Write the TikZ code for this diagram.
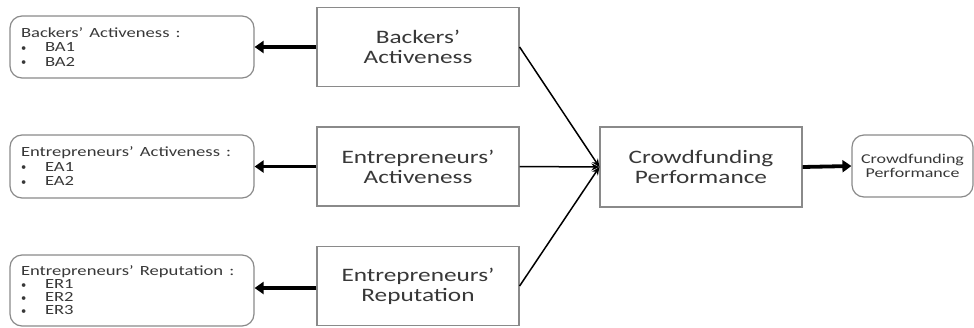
\documentclass[tikz,border=0pt]{standalone}
\usepackage{fontspec}
\usepackage{graphicx}
\setmainfont{Carlito}
\usetikzlibrary{arrows.meta}
\definecolor{boxgray}{HTML}{8A8A8A}
\definecolor{txtgray}{HTML}{383838}
% wide lettering: every text line is stretched horizontally
\newcommand{\sx}[1]{\scalebox{1.33}[1]{#1}}
\newcommand{\itm}[1]{\makebox[24pt][l]{\raisebox{0.5pt}{\scalebox{0.75}{\textbullet}}}\sx{#1}}
\begin{document}
\begin{tikzpicture}[x=1pt,y=-1pt,
  construct/.style={draw=boxgray, line width=1.2pt, fill=white, text=txtgray,
    minimum width=202pt, minimum height=79pt, align=center,
    font=\fontsize{19}{20}\selectfont},
  indicator/.style={draw=boxgray, line width=1.2pt, rounded corners=12pt, fill=white,
    text=txtgray, minimum width=244pt, text width=222pt, inner xsep=11pt,
    align=left, font=\fontsize{14}{14.5}\selectfont},
  outcome/.style={draw=boxgray, line width=1.2pt, rounded corners=12pt, fill=white,
    text=txtgray, minimum width=121pt, minimum height=62pt, align=center,
    font=\fontsize{13.5}{14}\selectfont},
  thick arrow/.style={line width=3.8pt, -{Triangle[length=9pt,width=12pt]}},
  thin arrow/.style={line width=1.5pt, -{Stealth[length=8pt,width=7pt]}}
]
\useasboundingbox (0,0) rectangle (974,327);

% constructs
\node[construct] (ba) at (418,47) {\sx{Backers'}\\\sx{Activeness}};
\node[construct] (ea) at (418,166.5) {\sx{Entrepreneurs'}\\\sx{Activeness}};
\node[construct] (er) at (418,286) {\sx{Entrepreneurs'}\\\sx{Reputation}};
\node[construct, minimum height=80pt] (cp) at (701,167) {\sx{Crowdfunding}\\\sx{Performance}};

% measurement items
\node[indicator, minimum height=62pt] (iba) at (132,47)
  {\sx{Backers' Activeness :}\\\itm{BA1}\\\itm{BA2}};
\node[indicator, minimum height=63pt] (iea) at (132,166.5)
  {\sx{Entrepreneurs' Activeness :}\\\itm{EA1}\\\itm{EA2}};
\node[indicator, minimum height=71pt, font=\fontsize{14}{13}\selectfont] (ier) at (132,290.5)
  {\sx{Entrepreneurs' Reputation :}\\\itm{ER1}\\\itm{ER2}\\\itm{ER3}};
\node[outcome] (icp) at (912.5,166) {\sx{Crowdfunding}\\\sx{Performance}};

% measurement arrows
\draw[thick arrow] (ba.west) -- (iba.east);
\draw[thick arrow] (ea.west) -- (iea.east);
\draw[thick arrow] ([yshift=-2pt]er.west) -- ([yshift=-2pt]er.west -| iea.east);
\draw[thick arrow] (cp.east) -- (icp.west);

% structural paths
\draw[thin arrow] (ba.east) -- (cp.west);
\draw[thin arrow] (ea.east) -- (cp.west);
\draw[thin arrow] (er.east) -- (cp.west);
\end{tikzpicture}
\end{document}
